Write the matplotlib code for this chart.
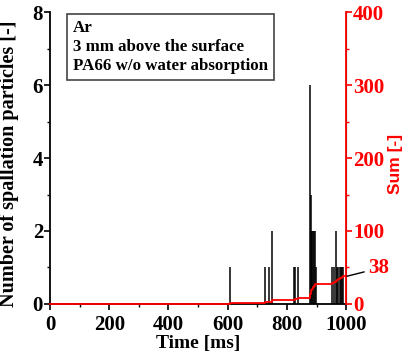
import numpy as np
import matplotlib
matplotlib.use("Agg")
import matplotlib.pyplot as plt
from matplotlib.ticker import MultipleLocator

# spallation particle counts per event (time in ms)
event_time = [608, 726, 740, 750, 824, 828, 836,
              878, 880, 883, 886, 889, 892, 895, 898,
              953, 960, 966, 970, 974, 978, 982, 986, 990]
event_count = [1, 1, 1, 2, 1, 1, 1,
               6, 3, 2, 2, 2, 2, 2, 1,
               1, 1, 2, 1, 1, 1, 1, 1, 1]

box_lines = ["Ar", "3 mm above the surface", "PA66 w/o water absorption"]

plt.rcParams['font.family'] = ['Liberation Serif', 'DejaVu Serif']
plt.rcParams['font.weight'] = 'bold'

fig = plt.figure(figsize=(4.17, 3.58), dpi=100)
ax = fig.add_axes([0.12, 0.151, 0.71, 0.815])

ax.vlines(event_time, 0, event_count, color='black', lw=1.1)
ax.set_xlim(0, 1000)
ax.set_ylim(0, 8)
ax.xaxis.set_major_locator(MultipleLocator(200))
ax.xaxis.set_minor_locator(MultipleLocator(100))
ax.yaxis.set_major_locator(MultipleLocator(2))
ax.yaxis.set_minor_locator(MultipleLocator(1))
ax.tick_params(which='major', length=4, width=1.2, labelsize=15, pad=1)
ax.tick_params(axis='x', which='major', pad=4)
ax.tick_params(which='minor', length=2.5, width=1.0)
ax.spines['top'].set_visible(False)
for s in ['left', 'bottom']:
    ax.spines[s].set_linewidth(1.3)
ax.set_xlabel("Time [ms]", fontsize=14, fontweight='bold', labelpad=0)
ax.set_ylabel("Number of spallation particles [-]", fontsize=14.5,
              fontweight='bold', labelpad=-1)
ax.yaxis.set_label_coords(-0.105, 0.48)

# cumulative sum on the right axis
t_sum = [0] + event_time + [1000]
c_sum = [0] + list(np.cumsum(event_count)) + [int(np.sum(event_count))]
ax2 = ax.twinx()
ax2.step(t_sum, c_sum, where='post', color='red', lw=1.3, clip_on=False)
ax2.set_ylim(0, 400)
ax2.yaxis.set_major_locator(MultipleLocator(100))
ax2.yaxis.set_minor_locator(MultipleLocator(50))
ax2.tick_params(which='major', length=4, width=1.2, labelsize=15, pad=1,
                colors='red')
ax2.tick_params(which='minor', length=2.5, width=1.0, colors='red')
ax2.spines['top'].set_visible(False)
ax2.spines['left'].set_visible(False)
ax2.spines['bottom'].set_visible(False)
ax2.spines['right'].set_color('red')
ax2.spines['right'].set_linewidth(1.3)
ax2.set_ylabel("Sum [-]", color='red', fontsize=12.5, fontweight='bold',
               family='Liberation Sans')
ax2.yaxis.set_label_coords(1.14, 0.48)

total = c_sum[-1]
ax2.annotate(str(total), xy=(1003, total), xytext=(1075, 49),
             textcoords='data', color='red', fontsize=15, fontweight='bold',
             va='center', ha='left', annotation_clip=False,
             arrowprops=dict(arrowstyle='-', color='black', lw=1.0,
                             shrinkA=1, shrinkB=0))

ax.text(0.078, 0.972, "\n".join(box_lines), transform=ax.transAxes,
        fontsize=12.2, fontweight='bold', va='top', ha='left',
        linespacing=1.25,
        bbox=dict(boxstyle='square,pad=0.35', facecolor='white',
                  edgecolor='#444444', lw=1.2))

fig.savefig("out.png", dpi=100)
